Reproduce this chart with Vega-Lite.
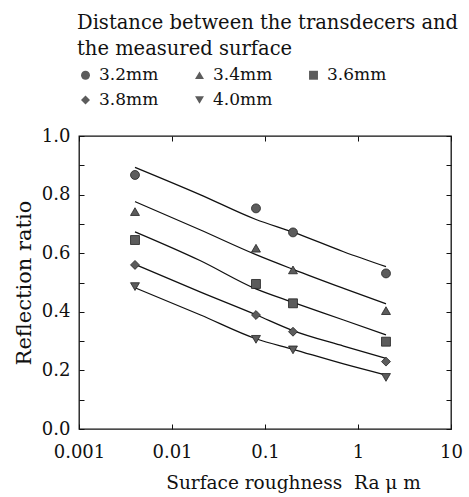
{
  "$schema": "https://vega.github.io/schema/vega-lite/v6.json",
  "width": 372,
  "height": 293,
  "autosize": {"type": "none"},
  "padding": {"left": 79, "top": 136, "right": 18, "bottom": 68},
  "background": "white",
  "config": {
    "font": "DejaVu Serif",
    "view": {"stroke": "#111", "strokeWidth": 1.3},
    "axis": {
      "domain": false,
      "grid": false,
      "tickColor": "#111",
      "tickWidth": 1,
      "tickSize": -5,
      "labelFont": "DejaVu Serif",
      "labelFontSize": 18,
      "labelColor": "#111",
      "labelFlush": false,
      "labelOverlap": false,
      "titleFont": "DejaVu Serif",
      "titleFontWeight": "normal",
      "titleColor": "#111"
    }
  },
  "datasets": {
    "fits": [
      {"series": "3.2mm", "Ra": 0.004, "ratio": 0.893},
      {"series": "3.2mm", "Ra": 0.02, "ratio": 0.8},
      {"series": "3.2mm", "Ra": 0.08, "ratio": 0.715},
      {"series": "3.2mm", "Ra": 0.2, "ratio": 0.672},
      {"series": "3.2mm", "Ra": 0.7, "ratio": 0.605},
      {"series": "3.2mm", "Ra": 2, "ratio": 0.554},
      {"series": "3.4mm", "Ra": 0.004, "ratio": 0.776},
      {"series": "3.4mm", "Ra": 0.02, "ratio": 0.68},
      {"series": "3.4mm", "Ra": 0.08, "ratio": 0.595},
      {"series": "3.4mm", "Ra": 0.2, "ratio": 0.545},
      {"series": "3.4mm", "Ra": 0.7, "ratio": 0.48},
      {"series": "3.4mm", "Ra": 2, "ratio": 0.427},
      {"series": "3.6mm", "Ra": 0.004, "ratio": 0.673},
      {"series": "3.6mm", "Ra": 0.02, "ratio": 0.575},
      {"series": "3.6mm", "Ra": 0.08, "ratio": 0.478},
      {"series": "3.6mm", "Ra": 0.2, "ratio": 0.432},
      {"series": "3.6mm", "Ra": 0.7, "ratio": 0.372},
      {"series": "3.6mm", "Ra": 2, "ratio": 0.321},
      {"series": "3.8mm", "Ra": 0.004, "ratio": 0.562},
      {"series": "3.8mm", "Ra": 0.02, "ratio": 0.468},
      {"series": "3.8mm", "Ra": 0.08, "ratio": 0.39},
      {"series": "3.8mm", "Ra": 0.2, "ratio": 0.336},
      {"series": "3.8mm", "Ra": 0.7, "ratio": 0.283},
      {"series": "3.8mm", "Ra": 2, "ratio": 0.241},
      {"series": "4.0mm", "Ra": 0.004, "ratio": 0.482},
      {"series": "4.0mm", "Ra": 0.02, "ratio": 0.39},
      {"series": "4.0mm", "Ra": 0.08, "ratio": 0.308},
      {"series": "4.0mm", "Ra": 0.2, "ratio": 0.272},
      {"series": "4.0mm", "Ra": 0.7, "ratio": 0.222},
      {"series": "4.0mm", "Ra": 2, "ratio": 0.184}
    ],
    "points": [
      {"series": "3.2mm", "Ra": 0.004, "ratio": 0.867},
      {"series": "3.2mm", "Ra": 0.08, "ratio": 0.753},
      {"series": "3.2mm", "Ra": 0.2, "ratio": 0.671},
      {"series": "3.2mm", "Ra": 2, "ratio": 0.531},
      {"series": "3.4mm", "Ra": 0.004, "ratio": 0.742},
      {"series": "3.4mm", "Ra": 0.08, "ratio": 0.617},
      {"series": "3.4mm", "Ra": 0.2, "ratio": 0.543},
      {"series": "3.4mm", "Ra": 2, "ratio": 0.404},
      {"series": "3.6mm", "Ra": 0.004, "ratio": 0.645},
      {"series": "3.6mm", "Ra": 0.08, "ratio": 0.495},
      {"series": "3.6mm", "Ra": 0.2, "ratio": 0.429},
      {"series": "3.6mm", "Ra": 2, "ratio": 0.298},
      {"series": "3.8mm", "Ra": 0.004, "ratio": 0.56},
      {"series": "3.8mm", "Ra": 0.08, "ratio": 0.389},
      {"series": "3.8mm", "Ra": 0.2, "ratio": 0.332},
      {"series": "3.8mm", "Ra": 2, "ratio": 0.23},
      {"series": "4.0mm", "Ra": 0.004, "ratio": 0.486},
      {"series": "4.0mm", "Ra": 0.08, "ratio": 0.306},
      {"series": "4.0mm", "Ra": 0.2, "ratio": 0.27},
      {"series": "4.0mm", "Ra": 2, "ratio": 0.176}
    ]
  },
  "layer": [
    {
      "data": {"name": "fits"},
      "mark": {"type": "line", "color": "#111", "strokeWidth": 1.3, "interpolate": "monotone"},
      "encoding": {
        "x": {
          "field": "Ra", "type": "quantitative",
          "scale": {"type": "log", "domain": [0.001, 10]},
          "axis": {"orient": "top", "labels": false, "title": null, "values": [0.001, 0.01, 0.1, 1, 10]}
        },
        "y": {
          "field": "ratio", "type": "quantitative",
          "scale": {"domain": [0, 1], "nice": false, "zero": false},
          "axis": {"orient": "right", "labels": false, "title": null, "values": [0, 0.1, 0.2, 0.3, 0.4, 0.5, 0.6, 0.7, 0.8, 0.9, 1.0]}
        },
        "detail": {"field": "series"}
      }
    },
    {
      "data": {"name": "points"},
      "mark": {"type": "point", "filled": true, "size": 80, "color": "#5c5c5c", "stroke": "#222", "strokeWidth": 0.8, "opacity": 1},
      "encoding": {
        "x": {
          "field": "Ra", "type": "quantitative",
          "scale": {"type": "log", "domain": [0.001, 10]},
          "axis": {"orient": "bottom", "values": [0.001, 0.01, 0.1, 1, 10], "format": "~g", "labelPadding": 19, "title": "Surface roughness\u00a0\u00a0Ra\u00a0\u03bc\u00a0m", "titleFontSize": 18.5, "titlePadding": 12, "titleX": 214, "titleAlign": "center"}
        },
        "y": {
          "field": "ratio", "type": "quantitative",
          "scale": {"domain": [0, 1], "nice": false, "zero": false},
          "axis": {"orient": "left", "values": [0, 0.1, 0.2, 0.3, 0.4, 0.5, 0.6, 0.7, 0.8, 0.9, 1.0], "labelExpr": "round(datum.value*10)%2==0 ? format(datum.value,'.1f') : ''", "labelPadding": 14, "title": "Reflection ratio", "titleFontSize": 21, "titlePadding": 7}
        },
        "shape": {
          "field": "series", "type": "nominal",
          "scale": {"domain": ["3.2mm", "3.4mm", "3.6mm", "3.8mm", "4.0mm"], "range": ["circle", "triangle-up", "square", "diamond", "triangle-down"]},
          "legend": {
            "orient": "none",
            "legendX": -2,
            "legendY": -122,
            "direction": "horizontal",
            "columns": 3,
            "columnPadding": 32,
            "rowPadding": 7,
            "title": ["Distance between the transdecers and", "the measured surface"],
            "titleFont": "DejaVu Serif",
            "titleFontSize": 19.5,
            "titleFontWeight": "normal",
            "titleColor": "#111",
            "titleLineHeight": 26,
            "titlePadding": 7,
            "titleLimit": 480,
            "labelFont": "DejaVu Serif",
            "labelFontSize": 17,
            "labelColor": "#111",
            "labelOffset": 5,
            "symbolSize": 80,
            "symbolFillColor": "#5c5c5c",
            "symbolStrokeColor": "#222",
            "symbolStrokeWidth": 0.8,
            "symbolOpacity": 1
          }
        }
      }
    }
  ],
  "resolve": {"axis": {"x": "independent", "y": "independent"}}
}
